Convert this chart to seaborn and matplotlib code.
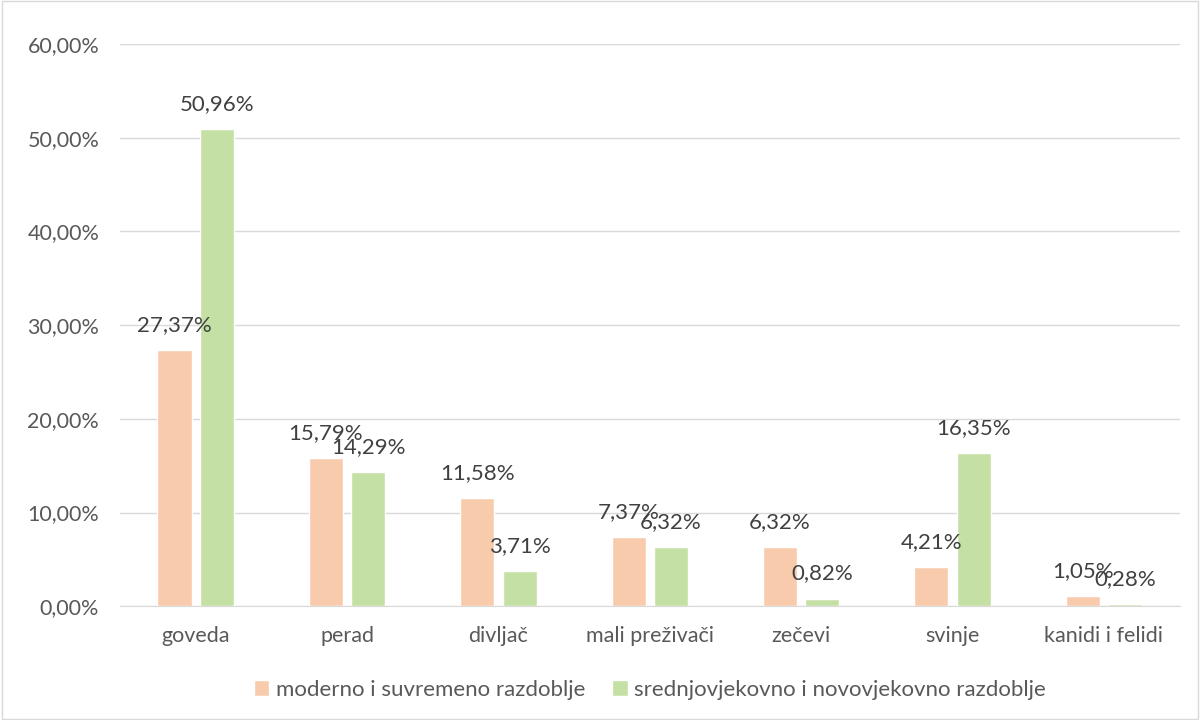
import pandas as pd
import matplotlib.pyplot as plt
import seaborn as sns
from matplotlib.ticker import FuncFormatter
from matplotlib.patches import Rectangle

# data (percentages)
categories = ['goveda', 'perad', 'divljač', 'mali preživači', 'zečevi', 'svinje', 'kanidi i felidi']
moderno = [27.37, 15.79, 11.58, 7.37, 6.32, 4.21, 1.05]
srednji = [50.96, 14.29, 3.71, 6.32, 0.82, 16.35, 0.28]
series_names = ['moderno i suvremeno razdoblje', 'srednjovjekovno i novovjekovno razdoblje']
colors = ['#F8CBAD', '#C5E0A5']

df = pd.DataFrame({
    'kategorija': categories * 2,
    'udio': moderno + srednji,
    'razdoblje': [series_names[0]] * len(categories) + [series_names[1]] * len(categories),
})

sns.set_style('white')
plt.rcParams['font.family'] = ['Lato', 'DejaVu Sans']

fig = plt.figure(figsize=(12, 7.2), dpi=100)
ax = fig.add_axes([0.1, 0.158, 0.883, 0.781])

sns.barplot(data=df, x='kategorija', y='udio', hue='razdoblje', palette=colors,
            width=0.56, gap=0.196, ax=ax, saturation=1, legend=True)

# value labels
for cont in ax.containers:
    for bar in cont:
        h = bar.get_height()
        ax.annotate(f'{h:.2f}%'.replace('.', ','),
                    (bar.get_x() + bar.get_width() / 2, h),
                    xytext=(0, 18), textcoords='offset points',
                    ha='center', va='center', fontsize=16, color='#404040')

ax.set_ylim(0, 60)
ax.set_yticks(range(0, 61, 10))
ax.yaxis.set_major_formatter(FuncFormatter(lambda v, p: f'{v:.2f}%'.replace('.', ',')))
ax.grid(axis='y', color='#D9D9D9', linewidth=1)
ax.set_axisbelow(True)
for s in ['top', 'right', 'left']:
    ax.spines[s].set_visible(False)
ax.spines['bottom'].set_color('#D9D9D9')
ax.tick_params(axis='y', length=0, labelsize=15.5, colors='#595959', pad=15)
ax.tick_params(axis='x', length=0, labelsize=15.5, colors='#595959', pad=14)
ax.set_xlabel('')
ax.set_ylabel('')

ax.legend(loc='center', bbox_to_anchor=(0.5, -0.149), ncol=2, frameon=False,
          fontsize=16, labelcolor='#595959', handlelength=0.7, handleheight=0.7,
          columnspacing=1.2, handletextpad=0.3)

# outer chart border
fig.patches.append(Rectangle((0.002, 0.002), 0.996, 0.996, transform=fig.transFigure,
                             fill=False, edgecolor='#D9D9D9', linewidth=1))

fig.savefig('out.png', dpi=100)
